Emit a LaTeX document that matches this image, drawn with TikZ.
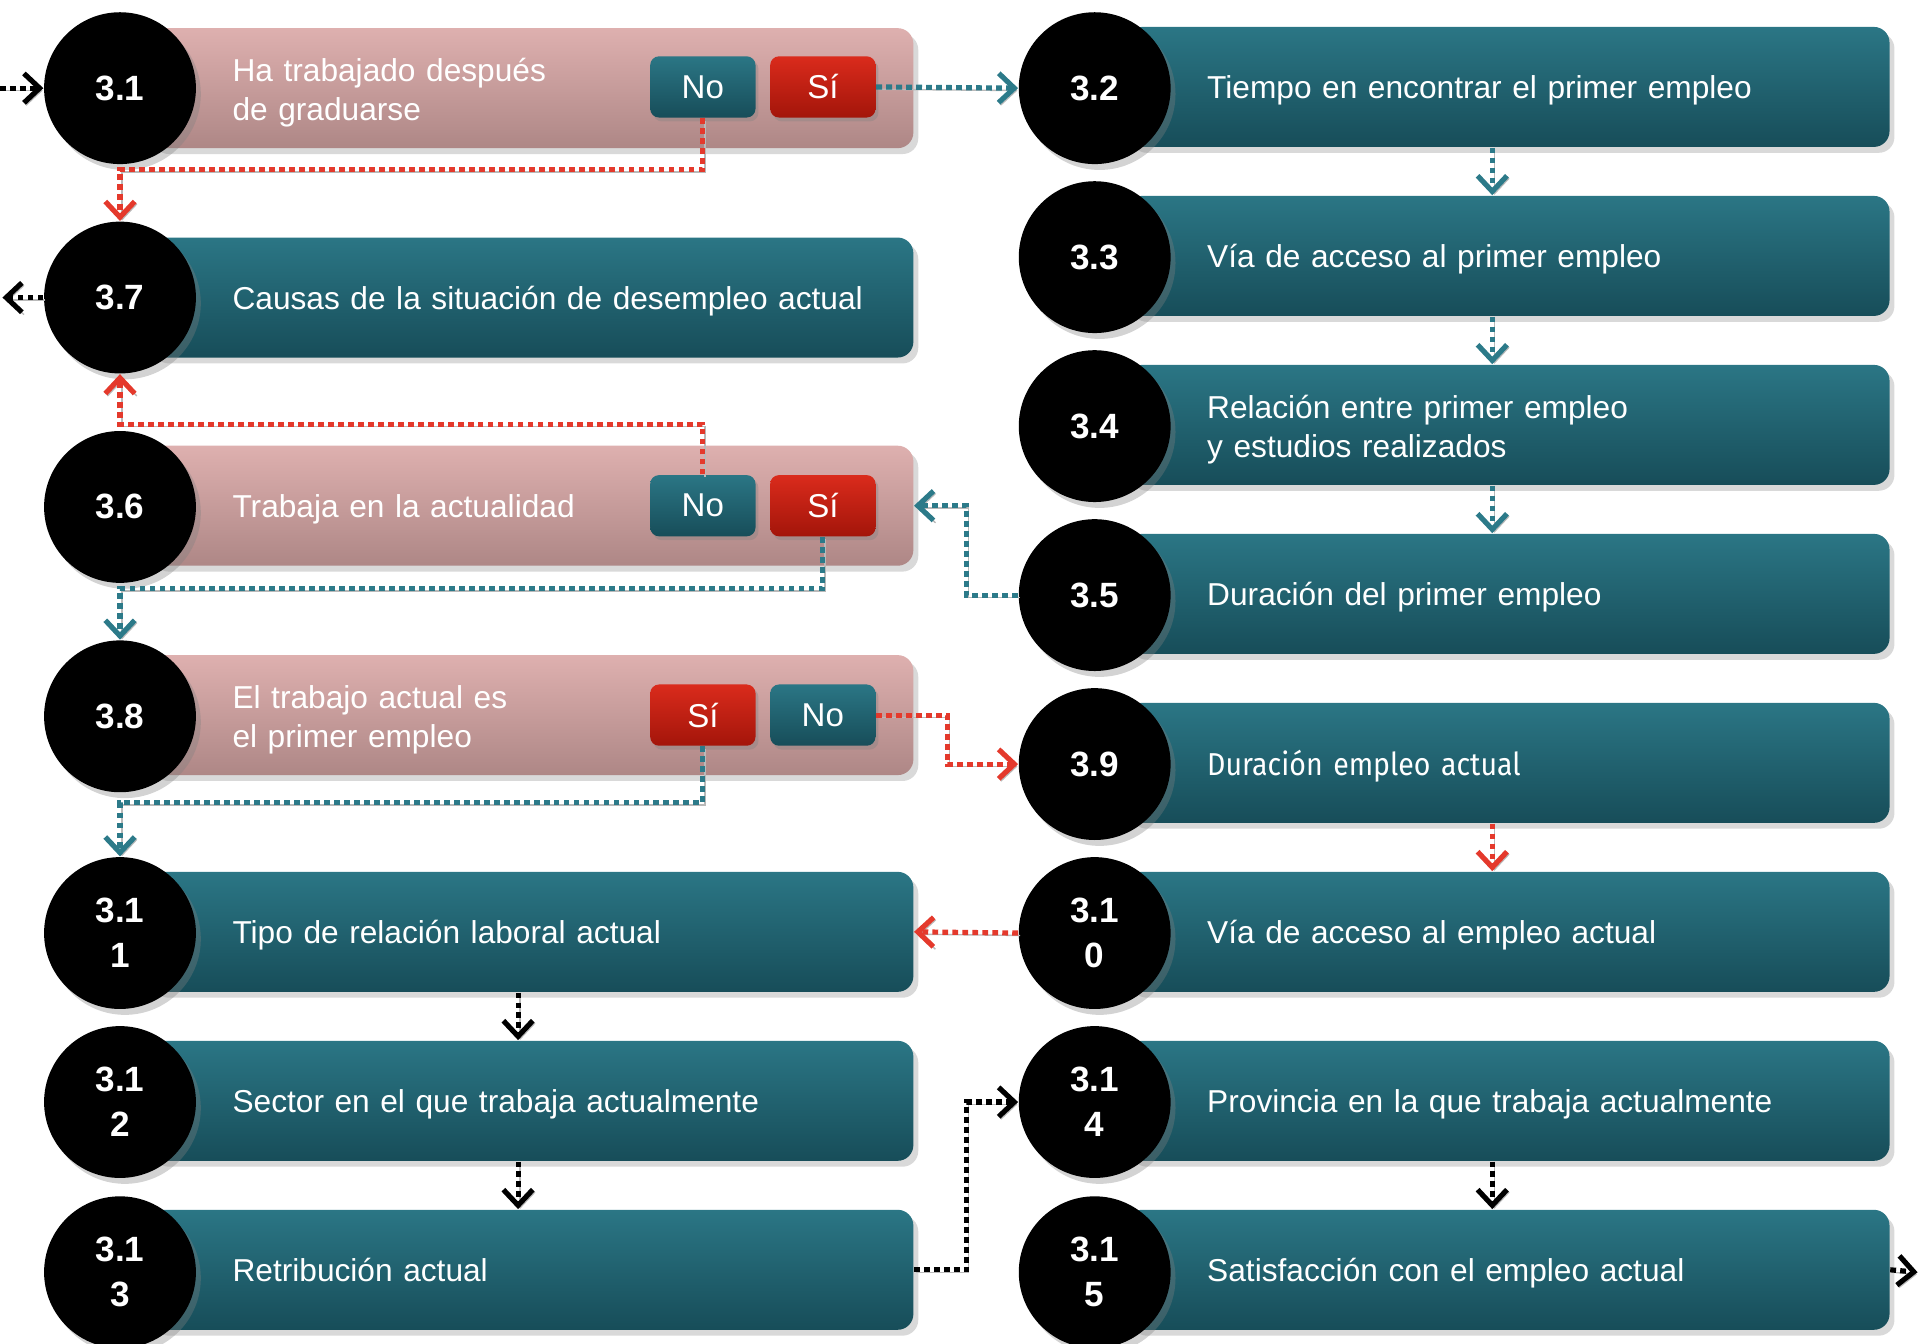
\documentclass[tikz,border=0pt]{standalone}
\usepackage{fontspec}
\setmainfont{Liberation Sans}
\newfontfamily\firafont[FakeStretch=0.9]{Fira Sans}
\usetikzlibrary{positioning, arrows.meta, shadows}

\definecolor{tealtop}{HTML}{2B7685}
\definecolor{tealbot}{HTML}{174D59}
\definecolor{pinktop}{HTML}{DEB0AF}
\definecolor{pinkbot}{HTML}{AE8786}
\definecolor{redtop}{HTML}{DA2B1C}
\definecolor{redbot}{HTML}{A3150A}
\definecolor{tealline}{HTML}{2C7A89}
\definecolor{redline}{HTML}{E4392C}

\tikzset{
  >={Straight Barb[length=1.6mm, width=3mm]},
  numcirc/.style={circle, fill=black, minimum size=15.5mm, inner sep=0pt, text=white, align=center,
    font=\bfseries\fontsize{10.2}{13}\selectfont,
    drop shadow={opacity=0.35, shadow xshift=0.5mm, shadow yshift=-0.6mm}},
  tealrow/.style={rounded corners=1.6mm, top color=tealtop, bottom color=tealbot, text=white,
    minimum height=12.25mm, inner xsep=8.6mm, text width=60.9mm, align=left,
    font=\fontsize{9.2}{11.4}\selectfont, execute at end node={\par\vspace*{-0.9mm}},
    drop shadow={opacity=0.3, shadow xshift=0.5mm, shadow yshift=-0.6mm}},
  pinkrow/.style={tealrow, top color=pinktop, bottom color=pinkbot},
  rightrow/.style={tealrow, text width=61.4mm, inner xsep=8.25mm},
  btn/.style={rounded corners=0.9mm, minimum width=10.75mm, minimum height=6.25mm, inner sep=0pt,
    text=white, font=\fontsize{9.6}{11}\selectfont,
    drop shadow={opacity=0.35, shadow xshift=0.3mm, shadow yshift=-0.4mm}},
  nobtn/.style={btn, top color=tealtop, bottom color=tealbot},
  sibtn/.style={btn, top color=redtop, bottom color=redbot},
  flow/.style={->, line width=1.5pt, dash pattern=on 1.7pt off 1.2pt,
    preaction={draw=gray!55, transform canvas={shift={(0.6pt,-0.7pt)}}}},
  tealflow/.style={flow, draw=tealline},
  redflow/.style={flow, draw=redline},
  blackflow/.style={flow, draw=black},
}

\begin{document}
\begin{tikzpicture}[x=0.125mm, y=-0.125mm]
  \useasboundingbox (0,0) rectangle (1568,1097);

  % left column
  \node (b31) [pinkrow] at (433.5,72) {Ha trabajado después\\de graduarse};
  \node (b37) [tealrow] at (433.5,243) {\mbox{Causas de la situación de desempleo actual}};
  \node (b36) [pinkrow] at (433.5,413) {Trabaja en la actualidad};
  \node (b38) [pinkrow] at (433.5,584) {El trabajo actual es\\el primer empleo};
  \node (b311) [tealrow] at (433.5,761) {Tipo de relación laboral actual};
  \node (b312) [tealrow] at (433.5,899) {Sector en el que trabaja actualmente};
  \node (b313) [tealrow] at (433.5,1037) {Retribución actual};

  \node (no1) [nobtn] at (574,71) {No};
  \node (si1) [sibtn] at (672,71) {Sí};
  \node (no6) [nobtn] at (574,413) {No};
  \node (si6) [sibtn] at (672,413) {Sí};
  \node (si8) [sibtn] at (574,584) {Sí};
  \node (no8) [nobtn] at (672,584) {No};

  \node (c31) [numcirc] at (98,72) {3.1};
  \node (c37) [numcirc] at (98,243) {3.7};
  \node (c36) [numcirc] at (98,414) {3.6};
  \node (c38) [numcirc] at (98,585) {3.8};
  \node (c311) [numcirc] at (98,762) {3.1\\1};
  \node (c312) [numcirc] at (98,900) {3.1\\2};
  \node (c313) [numcirc] at (98,1039) {3.1\\3};

  % right column
  \node (b32) [rightrow] at (1231.5,71) {Tiempo en encontrar el primer empleo};
  \node (b33) [rightrow] at (1231.5,209) {Vía de acceso al primer empleo};
  \node (b34) [rightrow] at (1231.5,347) {Relación entre primer empleo\\y estudios realizados};
  \node (b35) [rightrow] at (1231.5,485) {Duración del primer empleo};
  \node (b39) [rightrow] at (1231.5,623) {\firafont Duración empleo actual};
  \node (b310) [rightrow] at (1231.5,761) {Vía de acceso al empleo actual};
  \node (b314) [rightrow] at (1231.5,899) {Provincia en la que trabaja actualmente};
  \node (b315) [rightrow] at (1231.5,1037) {Satisfacción con el empleo actual};

  \node (c32) [numcirc] at (894,72) {3.2};
  \node (c33) [numcirc] at (894,210) {3.3};
  \node (c34) [numcirc] at (894,348) {3.4};
  \node (c35) [numcirc] at (894,486) {3.5};
  \node (c39) [numcirc] at (894,624) {3.9};
  \node (c310) [numcirc] at (894,762) {3.1\\0};
  \node (c314) [numcirc] at (894,900) {3.1\\4};
  \node (c315) [numcirc] at (894,1039) {3.1\\5};

  \coordinate (in31) at (0,72);
  \coordinate (out37) at (2,243);
  \coordinate (out315) at (1566,1039);

  % connectors
  \draw [blackflow] (in31) -- (c31.west);
  \draw [tealflow] (si1.east) -- (c32.west);
  \draw [redflow] (no1.south) -- ++(0,42) -| (c37.north);
  \draw [blackflow] (c37.west) -- (out37);
  \draw [redflow] (no6.north) -- ++(0,-41) -| (c37.south);
  \draw [tealflow] (si6.south) -- ++(0,42) -| (c38.north);
  \draw [tealflow] (c35.west) -- ++(-42,0) |- (b36.east);
  \draw [redflow] (no8.east) -- ++(58,0) |- (c39.west);
  \draw [tealflow] (si8.south) -- ++(0,46) -| (c311.north);
  \draw [tealflow] ([xshift=-1.6mm]b32.south) -- ([xshift=-1.6mm]b33.north);
  \draw [tealflow] ([xshift=-1.6mm]b33.south) -- ([xshift=-1.6mm]b34.north);
  \draw [tealflow] ([xshift=-1.6mm]b34.south) -- ([xshift=-1.6mm]b35.north);
  \draw [redflow] ([xshift=-1.6mm]b39.south) -- ([xshift=-1.6mm]b310.north);
  \draw [redflow] (c310.west) -- (b311.east);
  \draw [blackflow] ([xshift=-1.3mm]b311.south) -- ([xshift=-1.3mm]b312.north);
  \draw [blackflow] ([xshift=-1.3mm]b312.south) -- ([xshift=-1.3mm]b313.north);
  \draw [blackflow] (b313.east) -- ++(43,0) |- (c314.west);
  \draw [blackflow] ([xshift=-1.6mm]b314.south) -- ([xshift=-1.6mm]b315.north);
  \draw [blackflow] (b315.east) -- (out315);
\end{tikzpicture}
\end{document}
